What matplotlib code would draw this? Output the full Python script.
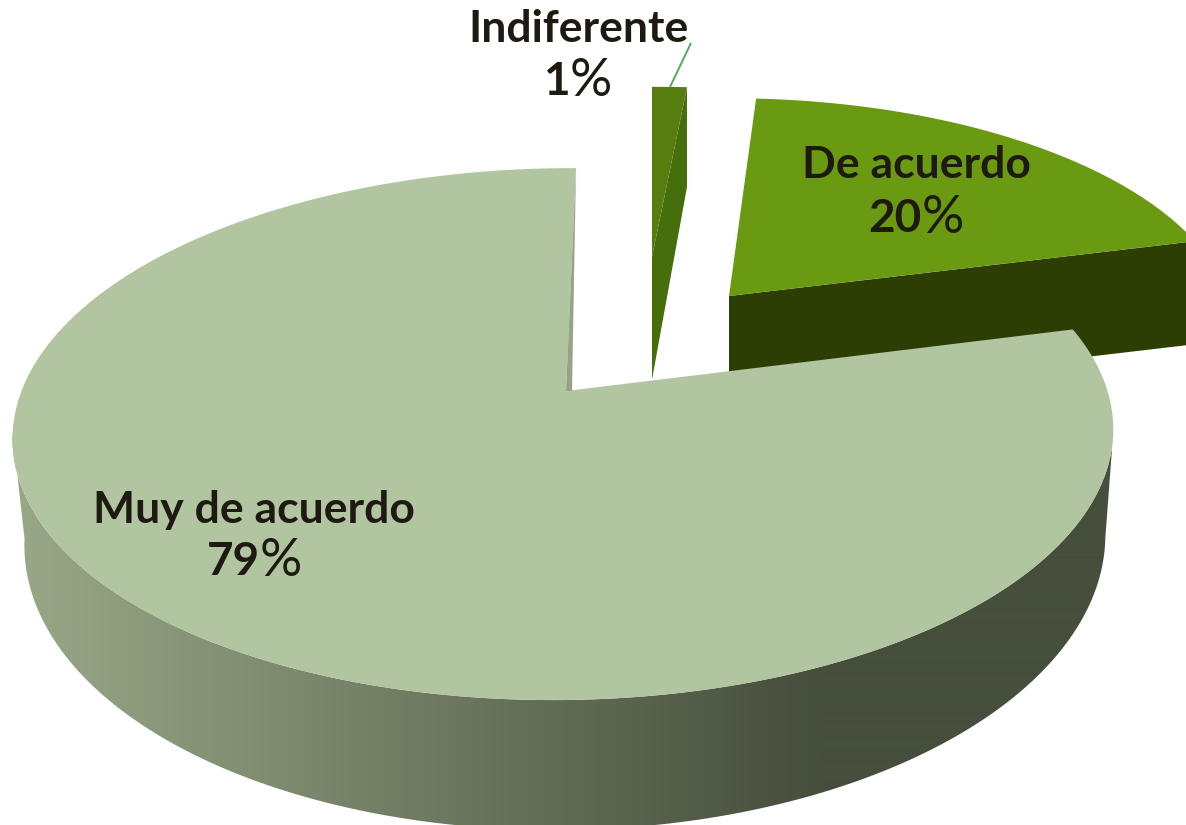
import numpy as np
import matplotlib
matplotlib.use('Agg')
import matplotlib.pyplot as plt
from matplotlib.patches import Polygon

# ── Data ──────────────────────────────────────────────────────────────────────
categories = ['Indiferente', 'De acuerdo', 'Muy de acuerdo']
percents   = [1, 20, 79]

plt.rcParams['font.family'] = ['Lato', 'DejaVu Sans']

W, H = 1186, 825
INK = '#1e1a12'

# angles run clockwise from the top of the pie
edges = np.cumsum([0] + percents) * 3.6

# ── Perspective of each exploded slice (pixel space) ──────────────────────────
geo_small = dict(x0=652, y0=257, a=645, b=197, p=0.158, q=0.0,    c=0.0)
geo_mid   = dict(x0=729, y0=296, a=500, b=229, p=0.158, q=0.0,    c=0.0)
geo_big   = dict(x0=568, y0=391, a=543, b=259, p=0.162, q=0.0064, c=9.3)


def rim(deg, g):
    t = np.radians(np.atleast_1d(deg))
    u, v = np.sin(t), np.cos(t)
    w = 1 + g['p'] * v + g['q'] * u
    return np.column_stack([g['x0'] + (g['a'] * u + g['c'] * v) / w,
                            g['y0'] - g['b'] * v / w])


def drop_small(pts):
    return np.column_stack([pts[:, 0], pts[:, 1] * 1.135 + 88])


def drop_mid(pts):
    return np.column_stack([pts[:, 0], pts[:, 1] + 103])


def drop_big(pts):
    return np.column_stack([564 + (pts[:, 0] - 562) * 0.982,
                            540 + (pts[:, 1] - 434) * 1.09])


fig = plt.figure(figsize=(W / 100, H / 100), dpi=100)
ax = fig.add_axes([0, 0, 1, 1])

# ── De acuerdo ────────────────────────────────────────────────────────────────
apex = np.array([[geo_mid['x0'], geo_mid['y0']]], dtype=float)
arc = rim(np.linspace(edges[1], edges[2], 60), geo_mid)
face = np.vstack([apex, arc[[-1]], drop_mid(arc[[-1]]), drop_mid(apex)])
ax.add_patch(Polygon(face, fc='#2c3e04', ec='none'))
ax.add_patch(Polygon(np.vstack([apex, arc]), fc='#6a9912', ec='none'))

# ── Indiferente ───────────────────────────────────────────────────────────────
apex = np.array([[geo_small['x0'], geo_small['y0']]], dtype=float)
arc = rim(np.linspace(edges[0], edges[1], 8), geo_small)
face = np.vstack([apex, arc[[-1]], drop_small(arc[[-1]]), drop_small(apex)])
ax.add_patch(Polygon(face, fc='#466e0a', ec='none'))
ax.add_patch(Polygon(np.vstack([apex, arc]), fc='#587d0f', ec='none'))
ax.plot([670, 691], [87, 43], color='#55aa55', lw=1.4, solid_capstyle='butt')

# ── Muy de acuerdo: gradient side, sliver, top face ───────────────────────────
# side runs between the left and right extremes of the rim
side_top = rim(np.linspace(261, 99, 200), geo_big)
side = np.vstack([side_top, drop_big(side_top)[::-1]])
side_patch = Polygon(side, fc='none', ec='none')
ax.add_patch(side_patch)
xs = np.arange(W)
ramp = np.column_stack([np.interp(xs, [20, 820], [152, 70]),
                        np.interp(xs, [20, 820], [168, 78]),
                        np.interp(xs, [20, 820], [135, 60])]) / 255
img = ax.imshow(ramp[np.newaxis, :, :], extent=(0, W, H, 0), aspect='auto',
                interpolation='bilinear')
img.set_clip_path(side_patch)

arc = rim(np.linspace(edges[2], edges[3], 400), geo_big)
apex = np.array([[566, 391]], dtype=float)
ax.add_patch(Polygon(np.vstack([apex, arc]), fc='#b0c5a0', ec='none', zorder=3))
ax.add_patch(Polygon([arc[-1], (572, 391), apex[0]], fc='#96a387', ec='none', zorder=3))

# ── Labels ────────────────────────────────────────────────────────────────────
label_xy = [(578, 42), (916, 178), (254, 523)]
pct_xy   = [(570, 95), (922, 232), (260, 575)]
for name, pct, (lx, ly), (px, py) in zip(categories, percents, label_xy, pct_xy):
    ax.text(lx, ly, name, ha='center', va='baseline', fontsize=32, fontweight='bold',
            color=INK, zorder=5)
    ax.text(px, py, str(pct), ha='right', va='baseline', fontsize=33, fontweight='bold',
            color=INK, zorder=5)
    ax.text(px, py + 1, '%', ha='left', va='baseline', fontsize=38, fontweight='normal',
            color=INK, zorder=5)

ax.set_xlim(0, W)
ax.set_ylim(H, 0)
ax.axis('off')
fig.savefig('out.png', dpi=100, facecolor='white')
